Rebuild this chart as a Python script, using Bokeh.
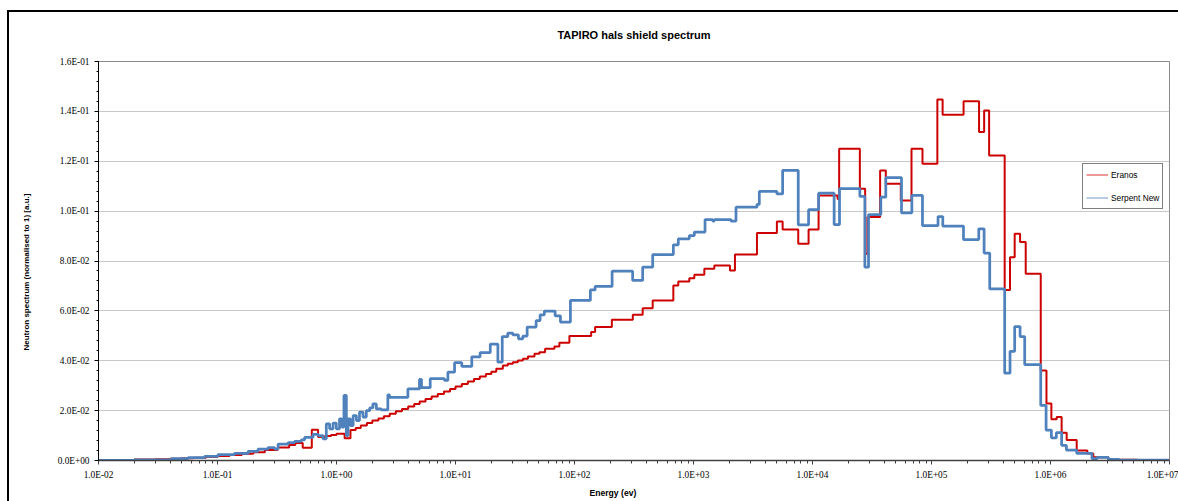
from bokeh.plotting import figure
from bokeh.models import (FixedTicker, CustomJSTickFormatter, Legend, LegendItem, Range1d, Title)
from bokeh.embed import file_html
from bokeh.resources import INLINE

# ---------------- data (energy group lower bounds in eV, spectrum values) ----------------
e_max = 1.0e7

eranos_e = [0.01, 0.02, 0.03, 0.04, 0.05, 0.063, 0.08, 0.1, 0.126, 0.16,
            0.2, 0.25, 0.32, 0.4, 0.45, 0.52, 0.62, 0.70, 0.80, 0.90,
            1.0, 1.17, 1.31, 1.45, 1.6, 1.8, 2.0, 2.25, 2.5, 2.8,
            3.15, 3.55, 4.0, 4.5, 5.0, 5.6, 6.3, 7.1, 8.0, 9.0,
            10.0, 11.3, 12.7, 14.3, 16.0, 18.0, 20.0, 22.0, 25.0, 27.5,
            30.3, 33.4, 36.8, 40.6, 46.1, 50.7, 56.6, 67.8, 74.6, 90.6,
            138, 149, 206, 309, 374, 454, 677, 745, 922, 1016,
            1233, 1496, 2024, 2230, 3414, 5020, 5610, 7590, 9270, 11250,
            16250, 16750, 25000, 27700, 29000, 37000, 41300, 55200, 67900, 84000,
            112000, 124000, 186000, 251000, 277000, 305000, 412000, 457000, 500000, 555000,
            619000, 828000, 925000, 1017000, 1127000, 1240000, 1368000, 1660000, 2040000, 2290000,
            3060000, 3760000, 5370000]
eranos_v = [0.0002, 0.0004, 0.0005, 0.0007, 0.0009, 0.0011, 0.0014, 0.0018, 0.0022, 0.0027,
            0.0033, 0.0042, 0.0052, 0.0062, 0.0070, 0.0051, 0.0123, 0.0094, 0.0098, 0.0102,
            0.0107, 0.0089, 0.0122, 0.0130, 0.0140, 0.0150, 0.0160, 0.0168, 0.0177, 0.0187,
            0.0197, 0.0207, 0.0217, 0.0227, 0.0237, 0.0247, 0.0257, 0.0267, 0.0277, 0.0287,
            0.0297, 0.0307, 0.0317, 0.0327, 0.0337, 0.0347, 0.0356, 0.0368, 0.0381, 0.0388,
            0.0394, 0.0401, 0.0408, 0.0417, 0.0428, 0.0434, 0.0448, 0.0457, 0.0472, 0.0499,
            0.0515, 0.0535, 0.0564, 0.0584, 0.0611, 0.0642, 0.0702, 0.0718, 0.0731, 0.0745,
            0.0769, 0.0782, 0.0762, 0.0826, 0.0912, 0.0958, 0.0926, 0.0869, 0.0926, 0.1063,
            0.1049, 0.1250, 0.1090, 0.0829, 0.0976, 0.1163, 0.1110, 0.1043, 0.1250, 0.1190,
            0.1448, 0.1386, 0.1441, 0.1317, 0.1404, 0.1223, 0.0684, 0.0815, 0.0909, 0.0876,
            0.0749, 0.0361, 0.0229, 0.0165, 0.0174, 0.0111, 0.0082, 0.0040, 0.0028, 0.0013,
            0.0005, 0.0003, 0.0001]

serpent_e = [0.01, 0.02, 0.041, 0.0567, 0.078, 0.101, 0.139, 0.181, 0.219, 0.266,
             0.302, 0.323, 0.392, 0.445, 0.506, 0.540, 0.635, 0.70, 0.77, 0.821,
             0.875, 0.935, 0.996, 1.06, 1.11, 1.155, 1.21, 1.25, 1.31, 1.38,
             1.47, 1.56, 1.67, 1.78, 1.90, 2.02, 2.16, 2.38, 2.70, 2.79,
             3.98, 4.98, 5.18, 6.13, 8.09, 8.63, 9.82, 11.3, 13.7, 16.1,
             19.6, 22.7, 24.7, 27.5, 30.3, 33.8, 36.8, 40.0, 47.6, 51.4,
             55.8, 68.7, 76.2, 92.4, 136, 149, 207, 308, 374, 454,
             677, 745, 922, 1016, 1250, 1449, 1496, 2065, 2275, 3414,
             3573, 5020, 5610, 7590, 9270, 11250, 15200, 16870, 25000, 27540,
             29580, 37500, 41300, 55970, 68370, 83960, 113500, 124400, 185700, 249600,
             276700, 308600, 412000, 457000, 500000, 555000, 607000, 828000, 918000, 1017000,
             1120000, 1240000, 1360000, 1660000, 2230000, 2470000, 3060000, 3760000]
serpent_v = [0.0001, 0.0003, 0.0008, 0.0012, 0.0017, 0.0024, 0.0029, 0.0037, 0.0046, 0.0052,
             0.0046, 0.0066, 0.0072, 0.0077, 0.0083, 0.0093, 0.0105, 0.0100, 0.0087, 0.0147,
             0.0127, 0.0150, 0.0127, 0.0167, 0.0134, 0.0261, 0.0100, 0.0167, 0.0140, 0.0180,
             0.0160, 0.0194, 0.0174, 0.0200, 0.0211, 0.0227, 0.0207, 0.0203, 0.0263, 0.0253,
             0.0287, 0.0325, 0.0292, 0.0328, 0.0321, 0.0354, 0.0392, 0.0377, 0.0416, 0.0433,
             0.0467, 0.0394, 0.0497, 0.0511, 0.0504, 0.0488, 0.0499, 0.0535, 0.0561, 0.0584,
             0.0599, 0.0580, 0.0555, 0.0642, 0.0684, 0.0698, 0.0759, 0.0722, 0.0775, 0.0826,
             0.0865, 0.0889, 0.0902, 0.0916, 0.0966, 0.0960, 0.0966, 0.0960, 0.1016, 0.1027,
             0.1079, 0.1069, 0.1163, 0.0945, 0.1006, 0.1072, 0.0946, 0.1090, 0.1059, 0.0775,
             0.0986, 0.1056, 0.1134, 0.0993, 0.1063, 0.0942, 0.0978, 0.0940, 0.0886, 0.0929,
             0.0832, 0.0688, 0.0350, 0.0438, 0.0537, 0.0497, 0.0384, 0.0221, 0.0122, 0.0091,
             0.0112, 0.0061, 0.0042, 0.0029, 0.0008, 0.0013, 0.0005, 0.0002]

series_names = ["Eranos", "Serpent New"]
series_colors = ["#CC0000", "#4F81BD"]

title_text = "TAPIRO hals shield spectrum"
x_label_text = "Energy (ev)"
y_label_text = "Neutron spectrum (normalised to 1) [a.u.]"

x_major_ticks = [1e-2, 1e-1, 1e0, 1e1, 1e2, 1e3, 1e4, 1e5, 1e6, 1e7]
x_minor_ticks = [m * d for d in x_major_ticks[:-1] for m in range(2, 10)]
y_major_ticks = [0.0, 0.02, 0.04, 0.06, 0.08, 0.10, 0.12, 0.14, 0.16]
y_minor_ticks = [k * 0.004 for k in range(0, 41)]

# ---------------- figure ----------------
p = figure(width=1178, height=501, x_axis_type="log",
           x_range=Range1d(1e-2, 1e7), y_range=Range1d(0, 0.16),
           output_backend="svg", toolbar_location=None,
           min_border_left=97, min_border_right=9, min_border_top=61, min_border_bottom=41)

# outer chart-area border (only its left and top edges are inside the crop)
p.styles = {"box-shadow": "inset 7px 10px 0 0 white, inset 9px 12px 0 0 black",
            "background-color": "white"}
p.border_fill_alpha = 0
p.background_fill_color = "white"
p.outline_line_color = "#8C8C8C"
p.outline_line_width = 1

p.title.text = title_text
p.title.align = "center"
p.title.text_font = "Liberation Sans"
p.title.text_font_size = "11px"
p.title.text_font_style = "bold"
p.title.text_color = "black"
p.title.standoff = 42

fmt = CustomJSTickFormatter(code="""
const s = tick.toExponential(1);
const parts = s.split('e');
const n = parseInt(parts[1]);
const a = Math.abs(n);
return parts[0] + 'E' + (n < 0 ? '-' : '+') + (a < 10 ? '0' : '') + a;
""")

xa = p.xaxis[0]
xa.ticker = FixedTicker(ticks=x_major_ticks, minor_ticks=x_minor_ticks)
xa.formatter = fmt
xa.axis_line_color = "#404040"
xa.axis_line_width = 1.5
xa.major_tick_line_color = "#404040"
xa.minor_tick_line_color = "#404040"
xa.major_tick_in = 0
xa.major_tick_out = 4
xa.minor_tick_in = 0
xa.minor_tick_out = 3
xa.major_label_text_font = "Liberation Serif"
xa.major_label_text_font_size = "9.3px"
xa.major_label_text_color = "black"
xa.major_label_standoff = 5

ya = p.yaxis[0]
ya.ticker = FixedTicker(ticks=y_major_ticks, minor_ticks=y_minor_ticks)
ya.formatter = fmt
ya.axis_line_color = "black"
ya.axis_line_width = 1
ya.major_tick_line_color = "black"
ya.minor_tick_line_color = "black"
ya.major_tick_in = 0
ya.major_tick_out = 4
ya.minor_tick_in = 0
ya.minor_tick_out = 2
ya.major_label_text_font = "Liberation Serif"
ya.major_label_text_font_size = "9.3px"
ya.major_label_text_color = "black"
ya.major_label_standoff = 5

p.xgrid.visible = False
p.ygrid.grid_line_color = "#C8C8C8"
p.ygrid.grid_line_width = 1

# axis titles as side-panel titles (placed like the original, not centred)
p.add_layout(Title(text=x_label_text, align="left", offset=491, standoff=7,
                   text_font="Liberation Sans", text_font_size="8.6px",
                   text_font_style="bold", text_color="black"), "below")
p.add_layout(Title(text=y_label_text, align="left", offset=110, standoff=43,
                   vertical_align="top",
                   text_font="Liberation Sans", text_font_size="8px",
                   text_font_style="bold", text_color="black"), "left")

# ---------------- step lines ----------------
red_x = eranos_e + [e_max]
red_y = eranos_v + [eranos_v[-1]]
blue_x = serpent_e + [e_max]
blue_y = serpent_v + [serpent_v[-1]]

p.step(red_x, red_y, mode="after", line_color=series_colors[0], line_width=2)
p.step(blue_x, blue_y, mode="after", line_color=series_colors[1], line_width=2.75)

# legend uses thin sample lines (drawn outside the visible ranges)
leg_r = p.line([1e8, 2e8], [-1, -1], line_color=series_colors[0], line_width=1, line_alpha=0.8)
leg_b = p.line([1e8, 2e8], [-1, -1], line_color=series_colors[1], line_width=1, line_alpha=0.8)
legend = Legend(items=[LegendItem(label=series_names[0], renderers=[leg_r]),
                       LegendItem(label=series_names[1], renderers=[leg_b])],
                location=(984, 251), orientation="vertical",
                padding=3, spacing=8, margin=0,
                glyph_width=22, glyph_height=15, label_height=15, label_standoff=3,
                label_text_font="Liberation Sans", label_text_font_size="8.4px",
                label_text_color="black",
                border_line_color="black", border_line_width=1,
                background_fill_color="white", background_fill_alpha=1)
p.add_layout(legend)

open("out.html", "w").write(file_html(p, INLINE))
